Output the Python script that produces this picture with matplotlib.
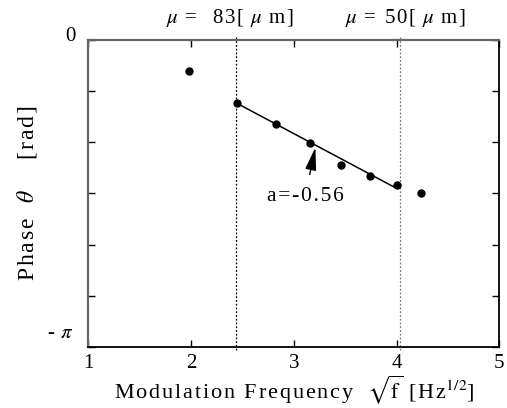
import numpy as np
import matplotlib
matplotlib.use("Agg")
import matplotlib.pyplot as plt
import matplotlib.transforms as mtransforms

plt.rcParams['font.family'] = ['Liberation Serif', 'DejaVu Serif']
plt.rcParams['mathtext.fontset'] = 'stix'

# data
sqrt_f = [1.98, 2.45, 2.83, 3.16, 3.46, 3.74, 4.00, 4.24]
phase = [-0.314, -0.642, -0.856, -1.057, -1.279, -1.388, -1.484, -1.562]
fit_x = [2.45, 4.00]
fit_y = [-0.650, -1.518]
vlines_x = [2.44, 4.03]
vline_label_x = [2.38, 4.09]
vline_labels = [r"$\mu$ =  83[ $\mu$ m]", r"$\mu$ = 50[ $\mu$ m]"]
xticks = [1, 2, 3, 4, 5]
yticks = [-k * np.pi / 6 for k in range(7)]
ytick_labels = ["0", "", "", "", "", "", ""]
bottom_label = r"- $\pi$"


def spaced(s, sep="\u200a"):
    parts = s.split("$")
    out = []
    for i, p in enumerate(parts):
        if i % 2 == 0:
            out.append(sep.join(p))
        else:
            out.append("$" + p + "$")
    return "".join(out)


fig = plt.figure(figsize=(5.07, 4.08), dpi=100)
ax = fig.add_axes([0.1742, 0.1495, 0.8106, 0.7525])

ax.plot(sqrt_f, phase, 'o', color='black', ms=5, zorder=3)
ax.plot(fit_x, fit_y, '-', color='black', lw=1.1, zorder=2)

vcolors = ['black', '#777777']
for xv, lx, lab, c in zip(vlines_x, vline_label_x, vline_labels, vcolors):
    ax.plot([xv, xv], [0.03, -np.pi - 0.03], linestyle=(0, (1.5, 1.5)), color=c,
            lw=0.9, clip_on=False, zorder=1)
    ax.text(lx, 0.11, spaced(lab), ha='center', va='bottom', fontsize=15)

ax.annotate(spaced("a=-0.56"), xy=(3.21, -1.10), xytext=(3.11, -1.60),
            ha='center', va='center', fontsize=15.5,
            arrowprops=dict(arrowstyle='-|>,head_length=0.9,head_width=0.22',
                            color='black', lw=1.0, shrinkA=7, shrinkB=0))

ax.set_xlim(1, 5)
ax.set_ylim(-np.pi, 0)
ax.set_xticks(xticks)
ax.set_xticklabels([str(t) for t in xticks], fontsize=15)
ax.set_yticks(yticks)
ax.set_yticklabels(ytick_labels, fontsize=15)
ax.tick_params(direction='in', length=5, width=1, top=True, right=True, pad=5)
ax.tick_params(axis='y', pad=9)
shift_up = mtransforms.ScaledTranslation(0, 4 / 72, fig.dpi_scale_trans)
for lbl in ax.get_yticklabels():
    lbl.set_transform(lbl.get_transform() + shift_up)

ax.annotate(spaced(bottom_label), xy=(0, -np.pi), xycoords=('axes fraction', 'data'),
            xytext=(-10, 10), textcoords='offset points', ha='right', va='center',
            fontsize=15)

for s in ['left', 'top']:
    ax.spines[s].set_color('#666666')
    ax.spines[s].set_linewidth(1.6)
for s in ['bottom', 'right']:
    ax.spines[s].set_color('black')
    ax.spines[s].set_linewidth(1.3)

ax.set_xlabel(spaced(r"Modulation Frequency  $\sqrt{\mathrm{f}}$ [Hz$^{1/2}$]"),
              fontsize=16, labelpad=0)
ax.set_ylabel(spaced(r"Phase  $\theta$    [rad]"), fontsize=17, labelpad=19)

fig.savefig("out.png", dpi=100)
